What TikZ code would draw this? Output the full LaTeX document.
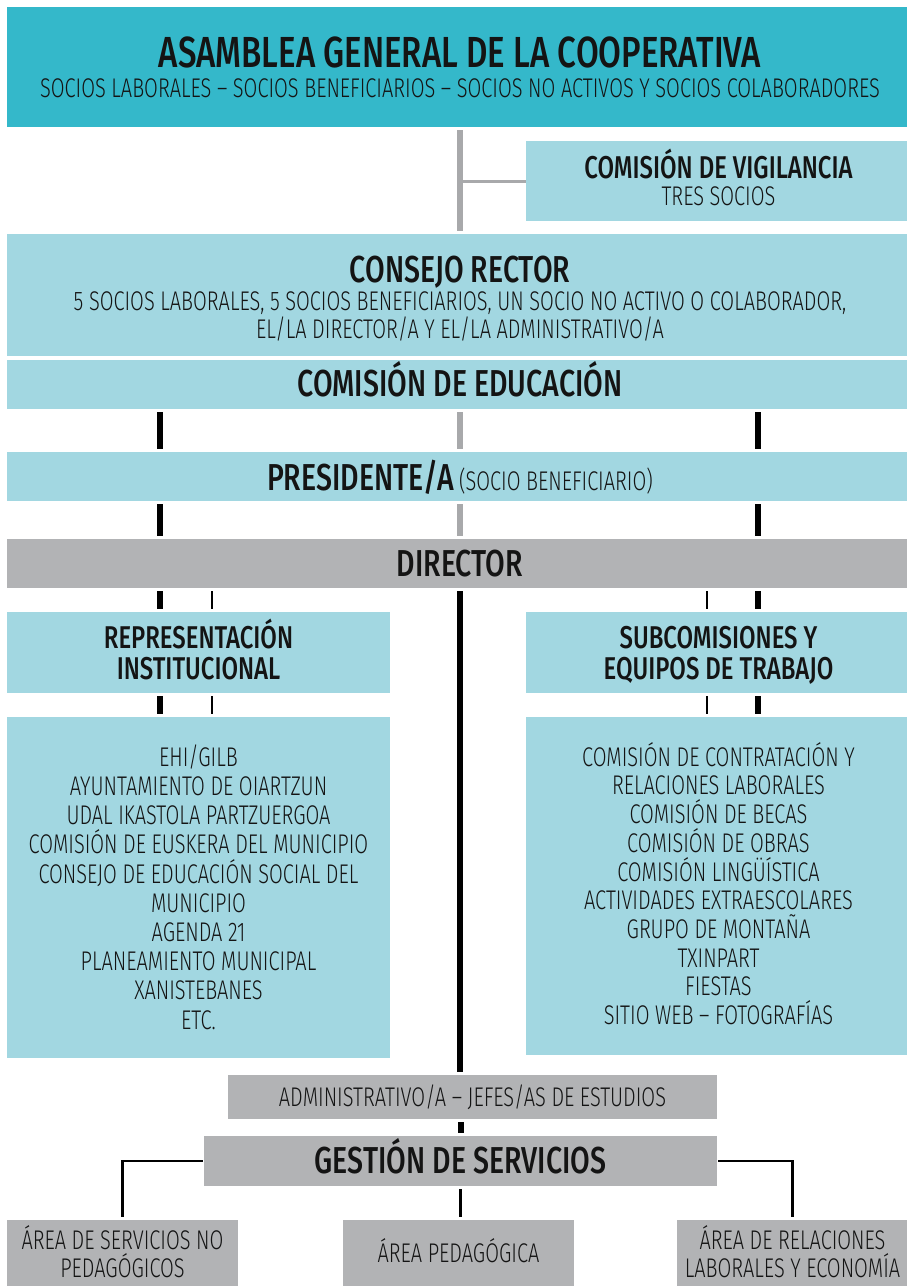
\documentclass[tikz,border=0pt]{standalone}
\usepackage{fontspec}
\setmainfont{Fira Sans Light}[FakeStretch=0.74]
\newfontfamily\headfont{Fira Sans Medium}[FakeStretch=0.76]
\definecolor{topblue}{HTML}{34B8CA}
\definecolor{boxblue}{HTML}{A2D7E1}
\definecolor{boxgray}{HTML}{B2B3B5}
\definecolor{linegray}{HTML}{A8A9AB}
\tikzset{
  box/.style={inner sep=0pt, align=center, text=black!92, text depth=0pt},
  bluebox/.style={box, fill=boxblue},
  graybox/.style={box, fill=boxgray},
  thickbar/.style={line width=6pt, shorten <=3pt, shorten >=3pt},
  thinbar/.style={line width=2.5pt, shorten <=3pt, shorten >=3pt},
  graybar/.style={line width=5.5pt, draw=linegray, shorten <=3pt, shorten >=3pt},
  elbow/.style={line width=2.5pt, shorten <=1pt, shorten >=3pt},
  title/.style={font=\headfont\fontsize{37.5}{40}\selectfont},
  subtitle/.style={font=\headfont\fontsize{31.5}{31}\selectfont},
  plain/.style={font=\fontsize{27}{#1}\selectfont},
  plain/.default=29
}
\begin{document}
\begin{tikzpicture}[x=1pt,y=-1pt]
\useasboundingbox (0,0) rectangle (907,1286);

% general assembly and supervisory board
\node[box, fill=topblue, plain=30, text height=60pt, minimum width=906pt, minimum height=120pt] (asamblea) at (460,67)
  {{\headfont\fontsize{43.5}{30}\selectfont ASAMBLEA GENERAL DE LA COOPERATIVA}\\
   SOCIOS LABORALES – SOCIOS BENEFICIARIOS – SOCIOS NO ACTIVOS Y SOCIOS COLABORADORES};
\node[bluebox, plain=27, text height=48pt, minimum width=385pt, minimum height=80pt] (vigilancia) at (718.5,181)
  {{\headfont\fontsize{31.5}{27}\selectfont COMISIÓN DE VIGILANCIA}\\
   TRES SOCIOS};

% governing council and board of education
\node[bluebox, plain=28, text height=86pt, minimum width=906pt, minimum height=122pt] (consejo) at (460,295)
  {{\headfont\fontsize{37.5}{28}\selectfont CONSEJO RECTOR}\\
   5 SOCIOS LABORALES, 5 SOCIOS BENEFICIARIOS, UN SOCIO NO ACTIVO O COLABORADOR,\\
   EL/LA DIRECTOR/A Y EL/LA ADMINISTRATIVO/A};
\node[bluebox, title, text height=23pt, minimum width=906pt, minimum height=49pt] (educacion) at (460,384.5)
  {COMISIÓN DE EDUCACIÓN};
\node[bluebox, plain, text height=27pt, minimum width=906pt, minimum height=49pt] (presidente) at (460,476.5)
  {{\headfont\fontsize{37.5}{40}\selectfont PRESIDENTE/A}\hspace{5pt}(SOCIO BENEFICIARIO)};
\node[graybox, title, text height=25pt, minimum width=906pt, minimum height=49pt] (director) at (460,563.5)
  {DIRECTOR};

% commissions
\node[bluebox, subtitle, text height=53pt, minimum width=383pt, minimum height=81pt] (representacion) at (198.5,652.5)
  {REPRESENTACIÓN\\INSTITUCIONAL};
\node[bluebox, subtitle, text height=53pt, minimum width=385pt, minimum height=81pt] (subcomisiones) at (718.5,652.5)
  {SUBCOMISIONES Y\\EQUIPOS DE TRABAJO};
\node[bluebox, plain=29.2, text height=283pt, minimum width=383pt, minimum height=341pt] (institucional) at (198.5,887.5)
  {EHI/GILB\\AYUNTAMIENTO DE OIARTZUN\\UDAL IKASTOLA PARTZUERGOA\\
   COMISIÓN DE EUSKERA DEL MUNICIPIO\\CONSEJO DE EDUCACIÓN SOCIAL DEL\\MUNICIPIO\\
   AGENDA 21\\PLANEAMIENTO MUNICIPAL\\XANISTEBANES\\ETC.};
\node[bluebox, plain=28.7, text height=277pt, minimum width=385pt, minimum height=338pt] (equipos) at (718.5,886)
  {COMISIÓN DE CONTRATACIÓN Y\\RELACIONES LABORALES\\COMISIÓN DE BECAS\\
   COMISIÓN DE OBRAS\\COMISIÓN LINGÜÍSTICA\\ACTIVIDADES EXTRAESCOLARES\\
   GRUPO DE MONTAÑA\\TXINPART\\FIESTAS\\SITIO WEB – FOTOGRAFÍAS};

% staff and service areas
\node[graybox, plain, text height=19pt, minimum width=489pt, minimum height=44pt] (administrativo) at (472.5,1097)
  {ADMINISTRATIVO/A – JEFES/AS DE ESTUDIOS};
\node[graybox, title, text height=24pt, minimum width=513pt, minimum height=50pt] (gestion) at (460.5,1161)
  {GESTIÓN DE SERVICIOS};
\node[graybox, plain=28, text height=45pt, minimum width=231pt, minimum height=70pt] (noped) at (122.5,1255)
  {ÁREA DE SERVICIOS NO\\PEDAGÓGICOS};
\node[graybox, plain, text height=15pt, minimum width=231pt, minimum height=70pt] (pedagogica) at (458.5,1255)
  {ÁREA PEDAGÓGICA};
\node[graybox, plain=28, text height=45pt, minimum width=231pt, minimum height=70pt] (economia) at (792.5,1255)
  {ÁREA DE RELACIONES\\LABORALES Y ECONOMÍA};

% columns of the short bars
\coordinate (lcol) at (160,0);
\coordinate (lin) at (212,0);
\coordinate (rin) at (707,0);
\coordinate (rcol) at (758,0);

% connectors
\draw[graybar] (asamblea.south) -- (consejo.north);
\draw[line width=3pt, draw=linegray, shorten >=2pt] (vigilancia.west) -- (vigilancia.west -| asamblea.south);
\draw[graybar] (educacion.south) -- (presidente.north);
\draw[graybar] (presidente.south) -- (director.north);
\foreach \c in {lcol,rcol} {
  \draw[thickbar] (educacion.south -| \c) -- (presidente.north -| \c);
  \draw[thickbar] (presidente.south -| \c) -- (director.north -| \c);
}
\foreach \c/\s in {lcol/thickbar,lin/thinbar} {
  \draw[\s] (director.south -| \c) -- (representacion.north -| \c);
  \draw[\s] (representacion.south -| \c) -- (institucional.north -| \c);
}
\foreach \c/\s in {rin/thinbar,rcol/thickbar} {
  \draw[\s] (director.south -| \c) -- (subcomisiones.north -| \c);
  \draw[\s] (subcomisiones.south -| \c) -- (equipos.north -| \c);
}
\draw[thickbar] (director.south) -- (director.south |- administrativo.north);
\draw[thickbar] (administrativo.south -| gestion.north) -- (gestion.north);
\draw[elbow] (gestion.west) -| (noped.north);
\draw[elbow] (gestion.east) -| (economia.north);
\draw[thinbar] (gestion.south) -- (gestion.south |- pedagogica.north);
\end{tikzpicture}
\end{document}
